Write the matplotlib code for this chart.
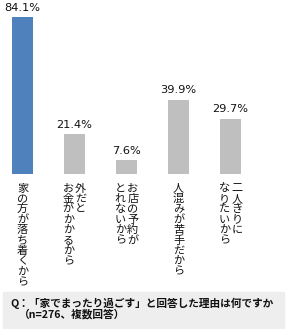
import matplotlib
matplotlib.use("Agg")
import matplotlib.pyplot as plt
from matplotlib.transforms import blended_transform_factory
from matplotlib.patches import Rectangle

# -------------------------------
# Data
# -------------------------------
values = [84.1, 21.4, 7.6, 39.9, 29.7]
value_labels = ["84.1%", "21.4%", "7.6%", "39.9%", "29.7%"]
# each category: columns read right to left (vertical writing)
categories = [
    ["家の方が落ち着くから"],
    ["外だと", "お金がかかるから"],
    ["お店の予約が", "とれないから"],
    ["人混みが苦手だから"],
    ["二人きりに", "なりたいから"],
]
colors = ["#4f81bd", "#bfbfbf", "#bfbfbf", "#bfbfbf", "#bfbfbf"]
title_lines = ["Q：「家でまったり過ごす」と回答した理由は何ですか", "（n=276、複数回答）"]

JP = ["Noto Sans CJK JP", "DejaVu Sans"]

W, H = 288, 329
DPI = 100
fig = plt.figure(figsize=(W / DPI, H / DPI), dpi=DPI)

# axes: top of fig down to baseline at y=174 px
base_px = 174
ax = fig.add_axes([0, (H - base_px) / H, 1, base_px / H])
px_per_pct = 1.867
ax.set_ylim(0, base_px / px_per_pct)
step = 52.0
c0 = 22.5
ax.set_xlim(-c0 / step, (W - c0) / step)
ax.axis("off")

x = list(range(len(values)))
ax.bar(x, values, width=0.41, color=colors, zorder=2)

for xi, v, lab in zip(x, values, value_labels):
    ax.annotate(lab, (xi, v), xytext=(0, 3), textcoords="offset points",
                ha="center", va="bottom", fontsize=8.2, color="#111111",
                family="DejaVu Sans")

# vertical category labels, char by char
trans = blended_transform_factory(ax.transData, fig.transFigure)
top_px = 188.5
char_px = 10.4
col_px = 12.5
for xi, cols in zip(x, categories):
    n = len(cols)
    for j, col in enumerate(cols):
        # first column on the right
        dx = ((n - 1) / 2 - j) * col_px / step
        for k, ch in enumerate(col):
            y = 1 - (top_px + k * char_px) / H
            ax.text(xi + dx, y, ch, transform=trans, ha="center", va="center",
                    fontsize=8, family=JP, color="#111111")

# question box
fig.patches.append(Rectangle((3 / W, 0), 281 / W, 37 / H,
                             transform=fig.transFigure, color="#eeeeee",
                             zorder=0))
fig.text(10 / W, 1 - 303 / H, title_lines[0], ha="left", va="center",
         fontsize=7.7, family=JP, weight="bold", color="#111111")
fig.text(19 / W, 1 - 314.5 / H, title_lines[1], ha="left", va="center",
         fontsize=7.7, family=JP, weight="bold", color="#111111")

fig.savefig("out.png", dpi=DPI)
